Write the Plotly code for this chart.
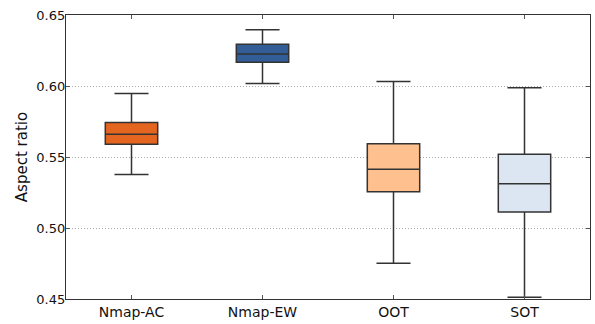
import plotly.graph_objects as go

categories = ["Nmap-AC", "Nmap-EW", "OOT", "SOT"]
lower = [0.5376, 0.6017, 0.4751, 0.4512]
q1 = [0.5590, 0.6168, 0.5255, 0.5113]
median = [0.5660, 0.6226, 0.5413, 0.5311]
q3 = [0.5743, 0.6294, 0.5594, 0.5520]
upper = [0.5947, 0.6396, 0.6031, 0.5987]
colors = ["#e4651f", "#335d96", "#fdc08e", "#dce6f2"]

fig = go.Figure()
for i, c in enumerate(categories):
    fig.add_trace(go.Box(
        x=[c], q1=[q1[i]], median=[median[i]], q3=[q3[i]],
        lowerfence=[lower[i]], upperfence=[upper[i]],
        fillcolor=colors[i], line=dict(color="#333333", width=1.5),
        width=0.4, whiskerwidth=0.65, boxpoints=False, showlegend=False,
        hoverinfo="skip",
    ))

fig.update_layout(
    width=595, height=324,
    margin=dict(l=66, r=4, t=15, b=22),
    paper_bgcolor="white", plot_bgcolor="white",
    boxmode="overlay",
    font=dict(family="DejaVu Sans", size=14, color="#111111"),
)
fig.update_xaxes(
    type="category", categoryorder="array", categoryarray=categories,
    showline=True, linecolor="#333333", linewidth=1.2, mirror="allticks",
    ticks="inside", ticklen=4, tickcolor="#555555", showgrid=False,
    tickfont=dict(size=14), range=[-0.5, 3.5],
)
fig.update_yaxes(
    range=[0.45, 0.65], tickvals=[0.45, 0.50, 0.55, 0.60, 0.65],
    ticktext=["0.45", "0.50", "0.55", "0.60", "0.65"],
    showline=True, linecolor="#333333", linewidth=1.2, mirror="allticks",
    ticks="inside", ticklen=4, tickcolor="#555555",
    showgrid=True, gridcolor="#aaaaaa", griddash="1px,2px", gridwidth=1,
    zeroline=False, tickfont=dict(size=13), ticklabelstandoff=-3,
    title=dict(text="Aspect ratio", font=dict(size=15), standoff=5),
)
fig.write_html("out.html")
